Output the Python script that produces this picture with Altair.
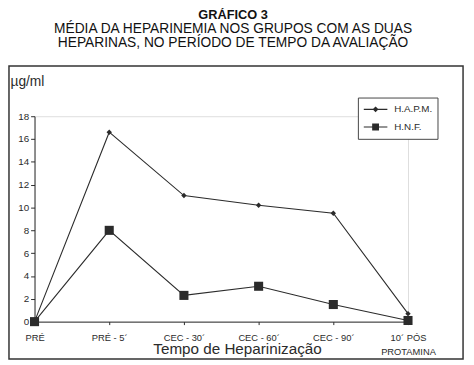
import altair as alt
import pandas as pd

categories = ["PRÉ", "PRÉ - 5´", "CEC - 30´", "CEC - 60´", "CEC - 90´", "10´ PÓS|PROTAMINA"]
hapm = [0.0, 16.6, 11.05, 10.2, 9.5, 0.7]
hnf = [0.0, 8.0, 2.3, 3.1, 1.5, 0.1]
series_names = ["H.A.P.M.", "H.N.F."]

rows = []
for name, vals in zip(series_names, [hapm, hnf]):
    for c, v in zip(categories, vals):
        rows.append({"tempo": c, "valor": v, "serie": name})
df = pd.DataFrame(rows)

FONT = "Liberation Sans"
INK = "#2b2b2b"

x_enc = alt.X("tempo:N", sort=categories,
              scale=alt.Scale(type="point", padding=0),
              axis=alt.Axis(title="Tempo de Heparinização", labelAngle=0,
                            labelExpr="split(datum.label, '|')",
                            labelFontSize=9.5, labelFont=FONT, labelColor=INK,
                            labelPadding=8, labelLineHeight=14,
                            tickSize=3, tickColor=INK, domainColor=INK,
                            titleFontSize=15.5, titleFont=FONT, titleFontWeight="normal",
                            titleColor=INK, titleX=206, titleY=32,
                            titleBaseline="alphabetic", grid=False))
y_enc = alt.Y("valor:Q", scale=alt.Scale(domain=[0, 18], nice=False),
              axis=alt.Axis(values=list(range(0, 19, 2)), title="µg/ml",
                            titleAngle=0, titleX=-25, titleY=-31,
                            titleAlign="left", titleBaseline="alphabetic",
                            titleFontSize=14, titleFont=FONT, titleFontWeight="normal",
                            titleColor=INK, labelFontSize=10, labelFont=FONT,
                            labelColor=INK, tickSize=4, labelPadding=2,
                            tickColor=INK, domainColor=INK, grid=False))

base = alt.Chart(df)

lines = base.mark_line(color=INK, strokeWidth=1.1).encode(
    x=x_enc, y=y_enc, detail="serie:N")

points = base.mark_point(filled=True, color=INK, opacity=1).encode(
    x=x_enc, y=y_enc,
    shape=alt.Shape("serie:N", scale=alt.Scale(domain=series_names, range=["diamond", "square"]), legend=None),
    size=alt.Size("serie:N", scale=alt.Scale(domain=series_names, range=[30, 85]), legend=None))

# legend glyphs: a thin filled bar (the line) with the series marker in its middle
diamond_path = "M-1,-0.09H3V0.09H-1ZM1,-0.5L1.5,0L1,0.5L0.5,0Z"
square_path = "M-1,-0.09H3V0.09H-1ZM0.42,-0.6H1.58V0.6H0.42Z"

legend_layer = base.transform_filter("false").mark_point(
    filled=True, color=INK, opacity=1, size=144).encode(
    x=x_enc, y=y_enc,
    shape=alt.Shape("serie:N", scale=alt.Scale(domain=series_names, range=[diamond_path, square_path]),
                    legend=alt.Legend(title=None, orient="none", legendX=329, legendY=-19,
                                      padding=5, strokeColor="#444", fillColor="white",
                                      labelFont=FONT, labelFontSize=10, labelColor=INK,
                                      labelOffset=18, rowPadding=5, symbolSize=144,
                                      symbolFillColor=INK, symbolOpacity=1)))

frame = alt.Chart(pd.DataFrame({"a": [0]})).mark_rect(
    fill=None, stroke="#333", strokeWidth=1.5).encode(
    x=alt.value(-26), x2=alt.value(436), y=alt.value(-51), y2=alt.value(247))

chart = alt.layer(frame, lines, points, legend_layer).resolve_scale(
    shape="independent", size="independent").properties(
    width=380, height=209,
    padding={"left": 27, "top": 107, "right": 59, "bottom": 41},
    autosize=alt.AutoSizeParams(type="none"),
    title=alt.TitleParams(text="GRÁFICO 3",
                          subtitle=["MÉDIA DA HEPARINEMIA NOS GRUPOS COM AS DUAS",
                                    "HEPARINAS, NO PERÍODO DE TEMPO DA AVALIAÇÃO"],
                          font=FONT, fontSize=13, fontWeight="bold", color="#111",
                          subtitleFont=FONT, subtitleFontSize=14, subtitleColor="#111",
                          subtitleLineHeight=14, subtitlePadding=0,
                          anchor="middle", frame="group", dx=12, offset=16)
).configure_view(stroke=None).configure(background="white")

chart.save("out.html", embed_options={"renderer": "svg", "actions": False})
